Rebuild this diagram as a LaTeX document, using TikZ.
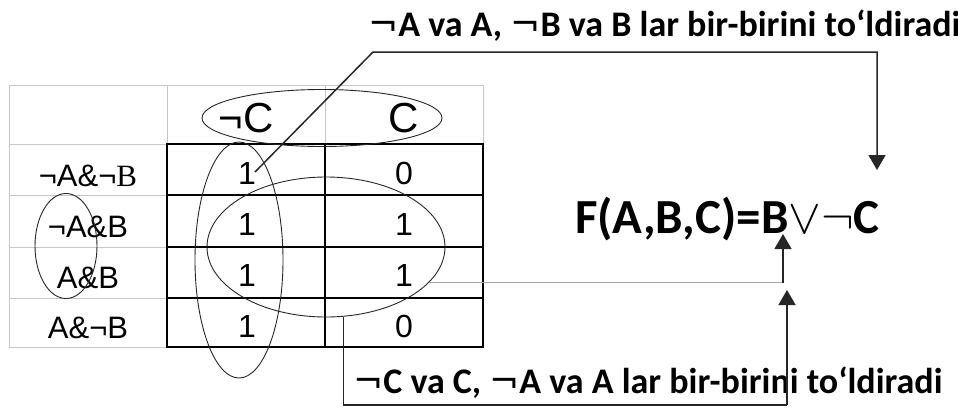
\RequirePackage{fix-cm}
\documentclass[tikz,border=0pt]{standalone}
\usepackage{fontspec}
\setmainfont{Liberation Sans}
\newfontfamily\calibfont{Carlito}
\newfontfamily\timesfont{Liberation Serif}
\newfontfamily\symbfont{DejaVu Sans}
\usetikzlibrary{positioning, shapes.geometric, arrows.meta, calc}

\newcommand{\notsign}{{\symbfont\mdseries ¬}}

\tikzset{
  gridline/.style={draw=gray!45, line width=1pt},
  cellline/.style={draw=black, line width=1.4pt},
  oval/.style={ellipse, draw=black!85, line width=0.9pt, inner sep=0pt},
  link/.style={draw=black!85, line width=1.5pt},
  greylink/.style={draw=gray!70, line width=1.5pt},
  pointer/.style={link, -{Triangle[width=17pt,length=15pt]}},
  cell/.style={anchor=base, inner sep=0pt, font=\fontsize{32}{36}\selectfont},
  rowlab/.style={anchor=base, inner sep=0pt, font=\fontsize{31}{36}\selectfont},
  collab/.style={anchor=base, inner sep=0pt, font=\fontsize{42}{46}\selectfont},
  note/.style={anchor=base west, inner sep=0pt, font=\calibfont\bfseries\fontsize{36}{40}\selectfont},
}

\begin{document}
\begin{tikzpicture}[x=1pt, y=-1pt]
\useasboundingbox (0,0) rectangle (958,407);
% light grid of the whole table
\draw[gridline] (9,85) rectangle (483,347);
\foreach \x in {167,325} {
  \draw[gridline] (\x,85) -- (\x,347);
}
\foreach \y in {144,195,247,298} {
  \draw[gridline] (9,\y) -- (483,\y);
}
% black border round the values
\draw[cellline] (167,144) rectangle (483,347);
\draw[cellline] (325,144) -- (325,347);
\foreach \y in {195,247,298} {
  \draw[cellline] (167,\y) -- (483,\y);
}
% column heads
\node[collab] (hNC) at (246,132) {¬C};
\node[collab] (hC) at (404,132) {C};
% row heads
\node[rowlab] (r1) at (88,186) {¬A\&¬{\timesfont B}};
\node[rowlab] (r2) at (88,237) {¬A\&B};
\node[rowlab] (r3) at (88,288) {A\&B};
\node[rowlab] (r4) at (88,338) {A\&¬B};
% values
\foreach \r/\y/\a/\b in {1/184/1/0, 2/235/1/1, 3/286/1/1, 4/337/1/0} {
  \node[cell] (v\r a) at (247,\y) {\a};
  \node[cell] (v\r b) at (404,\y) {\b};
}
% groupings
\node[oval, minimum width=240pt, minimum height=57pt] (ovHead) at (322,118) {};
\node[oval, minimum width=88pt, minimum height=236pt] (ovCol) at (239,260) {};
\node[oval, minimum width=238pt, minimum height=140pt] (ovRow) at (326,247) {};
\node[oval, minimum width=62pt, minimum height=105pt] (ovLab) at (66,246) {};
% result and notes
\node[note, font=\calibfont\bfseries\fontsize{49}{52}\selectfont] (func) at (575,233) {F(A,B,C)=B${\vee}{\neg}$C};
\node[note] (noteTop) at (368,36) {\notsign A va A, \notsign B va B lar bir-birini to‘ldiradi};
\node[note] (noteBot) at (353,393) {\notsign C va C, \notsign A va A lar bir-birini to‘ldiradi};
% connectors
\coordinate (tStart) at (255,172);
\coordinate (tBend) at (373,52);
\coordinate (tCorner) at (877,52);
\coordinate (tEnd) at (877,170);
\draw[pointer] (tStart) -- (tBend) -- (tCorner) -- (tEnd);
\coordinate (mJoin) at (783,283);
\coordinate (mEnd) at (783,234);
\draw[greylink] (ovRow.-19) -- (ovRow.-19 -| mJoin);
\draw[pointer] (mJoin) -- (mEnd);
\coordinate (bDown) at (343,405);
\coordinate (bCorner) at (787,405);
\coordinate (bEnd) at (787,290);
\draw[link] (ovRow.-76) -- (ovRow.-76 |- bDown) -- (bCorner);
\draw[pointer] (bCorner) -- (bEnd);
\end{tikzpicture}
\end{document}
